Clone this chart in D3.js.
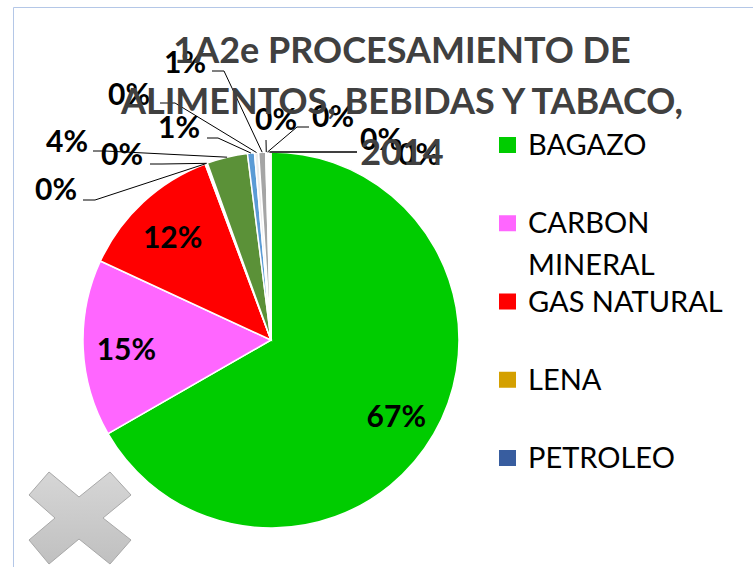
<!DOCTYPE html>
<html>
<head>
<meta charset="utf-8">
<script src="https://cdn.jsdelivr.net/npm/d3@7"></script>
<style>
  body { margin: 0; background: #fff; }
  svg { display: block; }
</style>
</head>
<body>
<svg id="chart"></svg>
<script>
const width = 753;
const height = 567;

// data (share of total, %)
const categories = ["BAGAZO", "CARBON MINERAL", "GAS NATURAL", "LENA", "PETROLEO",
  "CARBON COQUE", "FUEL OIL", "GLP", "ACPM", "KEROSENE", "GASOLINA", "ELECTRICIDAD", "OTROS"];
const shares = [66.7, 15.2, 12.4, 0.1, 0.1, 3.5, 0.6, 0.35, 0.6, 0.1, 0.1, 0.1, 0.15];
const colors = ["#00CC00", "#FF66FF", "#FF0000", "#D4A000", "#385D9F",
  "#5B9138", "#5B9BD5", "#EDEDED", "#A5A5A5", "#F2F2F2", "#E7E6E6", "#FFFFFF", "#F2F2F2"];
const legendItems = categories.slice(0, 5);
const titleLines = ["1A2e PROCESAMIENTO DE", "ALIMENTOS, BEBIDAS Y TABACO,", "2014"];

// layout
const cx = 271, cy = 340, radius = 188;
// outside label spots: text centre x, baseline y, leader start, leader elbow
const outsideLabels = {
  3:  {x: 56,  y: 200, s: [83, 200],  e: [95, 200]},
  4:  {x: 122, y: 165, s: [150, 164], e: [162, 164]},
  5:  {x: 67,  y: 152, s: [93, 151],  e: [105, 151]},
  6:  {x: 179, y: 138, s: [207, 138], e: [218, 138]},
  7:  {x: 129, y: 105, s: [160, 103], e: [175, 103]},
  8:  {x: 185, y: 73,  s: [212, 71],  e: [224, 71]},
  9:  {x: 276, y: 130, s: [266, 140], e: [266, 140]},
  10: {x: 333, y: 127, s: [309, 127], e: [297, 127]},
  11: {x: 381, y: 150, s: [357, 152], e: [357, 152]},
  12: {x: 419, y: 165, s: [357, 152], e: [357, 152]}
};

const data = categories.map((c, i) => ({name: c, value: shares[i], color: colors[i], i: i}));

const svg = d3.select("#chart")
  .attr("width", width)
  .attr("height", height)
  .attr("viewBox", [0, 0, width, height]);

// chart area border
svg.append("path")
  .attr("d", `M13.5,${height + 5}V7.5H${width + 5}`)
  .attr("fill", "none")
  .attr("stroke", "#B4C7E7")
  .attr("stroke-width", 1);

const pie = d3.pie().value(d => d.value).sort(null);
const arcs = pie(data);
const arc = d3.arc().innerRadius(0).outerRadius(radius);
const edgeArc = d3.arc().innerRadius(radius).outerRadius(radius);
const innerLabelArc = d3.arc().innerRadius(radius * 0.77).outerRadius(radius * 0.77);

const g = svg.append("g").attr("transform", `translate(${cx},${cy})`);

g.selectAll("path.slice")
  .data(arcs)
  .join("path")
  .attr("class", "slice")
  .attr("d", arc)
  .attr("fill", d => d.data.color)
  .attr("stroke", "#fff")
  .attr("stroke-width", 1.5);

// labels inside big slices
g.selectAll("text.inlabel")
  .data(arcs.filter(d => !outsideLabels[d.data.i]))
  .join("text")
  .attr("class", "inlabel")
  .attr("transform", d => `translate(${innerLabelArc.centroid(d)})`)
  .attr("text-anchor", "middle")
  .attr("dy", "0.47em")
  .attr("font-family", "Lato, sans-serif")
  .attr("font-weight", "bold")
  .attr("font-size", 30)
  .attr("fill", "#000")
  .text(d => Math.round(d.data.value) + "%");

// leader lines + outside labels
const outs = arcs.filter(d => outsideLabels[d.data.i]);
const line = d3.line();

svg.selectAll("path.leader")
  .data(outs)
  .join("path")
  .attr("class", "leader")
  .attr("d", d => {
    const L = outsideLabels[d.data.i];
    const p = edgeArc.centroid(d);
    return line([L.s, L.e, [cx + p[0], cy + p[1]]]);
  })
  .attr("fill", "none")
  .attr("stroke", "#000")
  .attr("stroke-width", 1);

svg.selectAll("text.outlabel")
  .data(outs)
  .join("text")
  .attr("class", "outlabel")
  .attr("x", d => outsideLabels[d.data.i].x)
  .attr("y", d => outsideLabels[d.data.i].y)
  .attr("text-anchor", "middle")
  .attr("font-family", "Lato, sans-serif")
  .attr("font-weight", "bold")
  .attr("font-size", 30)
  .attr("fill", "#000")
  .text(d => Math.round(d.data.value) + "%");

// title
svg.append("text")
  .attr("text-anchor", "middle")
  .attr("font-family", "Lato, sans-serif")
  .attr("font-weight", "bold")
  .attr("font-size", 36)
  .attr("fill", "#404040")
  .selectAll("tspan")
  .data(titleLines)
  .join("tspan")
  .attr("x", 402)
  .attr("y", (d, i) => 63 + i * 51)
  .text(d => d);

// legend
const ly = d3.scalePoint().domain(legendItems).range([145, 458]);
const legend = svg.append("g")
  .selectAll("g")
  .data(legendItems)
  .join("g")
  .attr("transform", d => `translate(499,${ly(d)})`);

legend.append("rect")
  .attr("x", 0)
  .attr("y", -8)
  .attr("width", 17)
  .attr("height", 16)
  .attr("fill", (d, i) => colors[i]);

legend.append("text")
  .attr("font-family", "Lato, sans-serif")
  .attr("font-size", 29)
  .attr("fill", "#000")
  .selectAll("tspan")
  .data(d => d === "CARBON MINERAL" ? ["CARBON", "MINERAL"] : [d])
  .join("tspan")
  .attr("x", 29)
  .attr("y", (d, i) => 10 + i * 42)
  .text(d => d);

// grey "x" placeholder glyph
const grad = svg.append("defs").append("linearGradient")
  .attr("id", "xgrad").attr("x1", 0).attr("y1", 0).attr("x2", 0).attr("y2", 1);
grad.append("stop").attr("offset", "0%").attr("stop-color", "#D6D6D6");
grad.append("stop").attr("offset", "100%").attr("stop-color", "#C0C0C0");

const xPts = [[49,472],[79,497],[110,472],[131,495],[103,518],[131,540],
  [110,564],[79,539],[49,564],[29,540],[55,518],[29,495]];
svg.append("path")
  .attr("d", d3.line()(xPts) + "Z")
  .attr("fill", "url(#xgrad)")
  .attr("stroke", "#A8A8A8")
  .attr("stroke-width", 1);
</script>
</body>
</html>
